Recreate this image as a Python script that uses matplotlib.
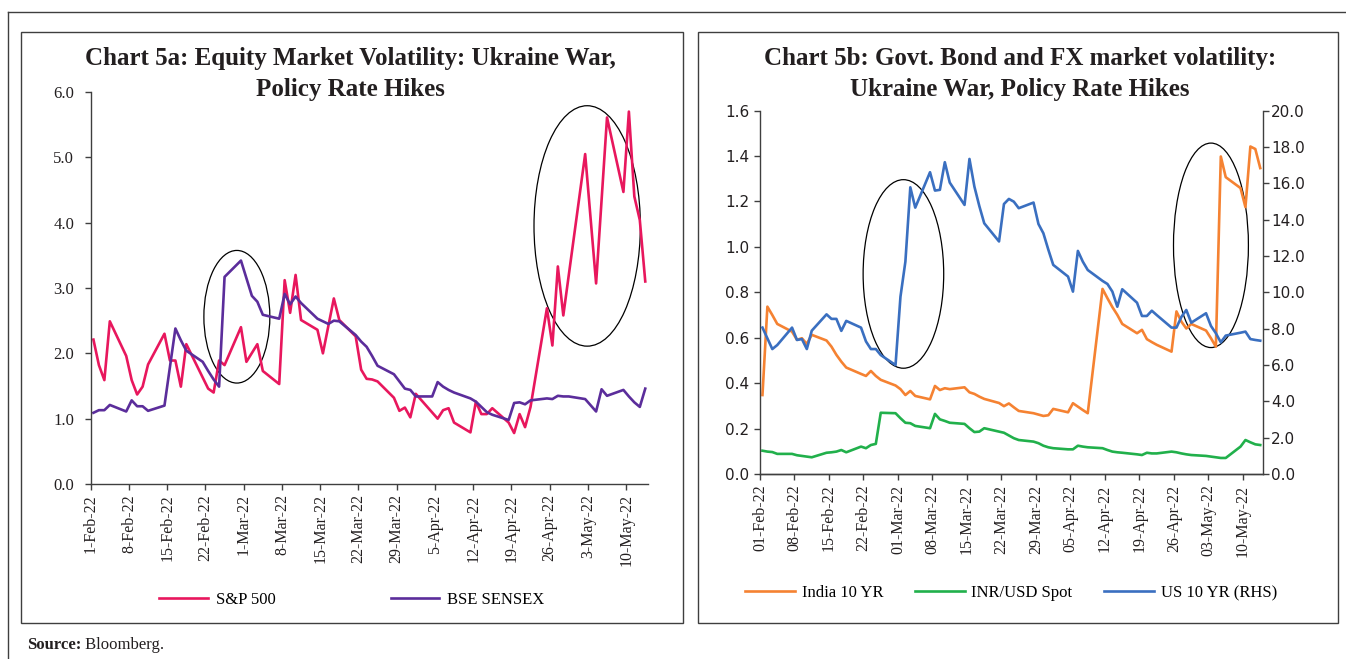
import numpy as np
import pandas as pd
import matplotlib
matplotlib.use("Agg")
import matplotlib.pyplot as plt
import matplotlib.dates as mdates
from matplotlib.patches import Ellipse, Rectangle
from matplotlib.lines import Line2D

nan = np.nan

# trading days shown on both charts
dates = pd.bdate_range("2022-02-01", "2022-05-13")
tick_dates = pd.date_range("2022-02-01", periods=15, freq="7D")

# Chart 5a: equity volatility
sp500 = [2.21, 1.82, 1.59, 2.49,
         1.96, 1.59, 1.37, 1.49, 1.83,
         2.30, 1.89, 1.89, 1.49, 2.14,
         nan, 1.46, 1.40, 1.89, 1.82,
         2.40, 1.87, nan, 2.14, 1.73,
         1.53, 3.12, 2.62, 3.20, 2.51,
         2.36, 2.00, nan, 2.84, 2.51,
         2.26, 1.75, 1.61, 1.60, 1.57,
         1.32, 1.12, 1.17, 1.02, 1.38,
         nan, 1.00, 1.13, 1.16, 0.94,
         0.79, 1.26, 1.07, 1.07, 1.16,
         0.94, 0.78, 1.07, 0.87, 1.18,
         2.69, 2.12, 3.33, 2.58, nan,
         5.05, nan, 3.07, nan, 5.61,
         4.47, 5.70, 4.40, 4.04, 3.10]
sensex = [1.09, 1.13, 1.13, 1.21,
          1.11, 1.28, 1.19, 1.19, 1.12,
          1.20, nan, 2.38, 2.20, 2.04,
          1.87, 1.73, 1.60, 1.49, 3.17,
          3.42, nan, 2.88, 2.79, 2.59,
          2.53, 2.91, 2.75, 2.87, 2.77,
          2.53, 2.49, 2.45, 2.50, 2.49,
          2.28, 2.18, 2.10, 1.96, 1.81,
          1.68, 1.57, 1.46, 1.44, 1.34,
          1.34, 1.56, 1.49, 1.44, 1.40,
          1.31, 1.26, 1.18, 1.10, 1.06,
          0.98, 1.24, 1.25, 1.22, 1.28,
          1.31, 1.30, 1.35, 1.34, 1.34,
          1.30, nan, 1.11, 1.45, 1.35,
          1.44, 1.34, 1.25, 1.18, 1.46]

# Chart 5b: bond and FX volatility
india10 = [0.348, 0.737, 0.700, 0.661,
           0.627, 0.591, 0.598, 0.573, 0.613,
           0.588, 0.561, 0.525, 0.495, 0.469,
           0.441, 0.432, 0.454, 0.432, 0.415,
           0.390, 0.374, 0.348, 0.366, 0.344,
           0.329, 0.388, 0.370, 0.378, 0.374,
           0.382, 0.360, 0.353, 0.341, 0.331,
           0.313, 0.299, 0.311, 0.294, 0.278,
           0.268, 0.262, 0.256, 0.259, 0.287,
           0.272, 0.312, 0.297, 0.282, 0.268,
           0.815, 0.774, 0.735, 0.701, 0.661,
           0.620, 0.635, 0.594, 0.581, 0.569,
           0.539, 0.716, 0.671, 0.641, 0.661,
           0.632, 0.598, 0.561, 1.398, 1.307,
           1.259, 1.175, 1.442, 1.431, 1.347]
inr_usd = [0.103, 0.099, 0.097, 0.089,
           0.089, 0.083, 0.080, 0.077, 0.074,
           0.094, 0.096, 0.099, 0.106, 0.096,
           0.121, 0.114, 0.128, 0.133, 0.270,
           0.268, 0.246, 0.226, 0.224, 0.212,
           0.202, 0.265, 0.241, 0.234, 0.226,
           0.221, 0.202, 0.185, 0.187, 0.202,
           0.187, 0.182, 0.170, 0.158, 0.150,
           0.143, 0.136, 0.125, 0.118, 0.114,
           0.109, 0.109, 0.125, 0.121, 0.118,
           0.114, 0.106, 0.099, 0.096, 0.094,
           0.087, 0.084, 0.094, 0.091, 0.091,
           0.099, 0.096, 0.091, 0.087, 0.084,
           0.080, 0.077, 0.074, 0.071, 0.071,
           0.121, 0.150, 0.140, 0.131, 0.128]
us10 = [8.06, 7.47, 6.88, 7.10,
        8.06, 7.38, 7.43, 6.88, 7.89,
        8.79, 8.54, 8.54, 7.88, 8.43,
        8.06, 7.30, 6.88, 6.88, 6.55,
        6.00, 9.76, 11.69, 15.78, 14.66,
        16.61, 15.60, 15.64, 17.16, 16.04,
        14.81, 17.34, 15.82, 14.75, 13.80,
        12.80, 14.86, 15.14, 14.99, 14.63,
        14.94, 13.76, 13.25, 12.35, 11.51,
        10.87, 10.04, 12.28, 11.69, 11.23,
        10.63, 10.46, 10.04, 9.21, 10.17,
        9.43, 8.70, 8.70, 8.99, 8.75,
        8.06, 8.06, 8.65, 9.03, 8.33,
        8.85, 8.15, 7.75, 7.25, 7.62,
        7.78, 7.84, 7.43, 7.38, 7.34]

SERIF = ["Liberation Serif", "DejaVu Serif"]
plt.rcParams["font.family"] = SERIF
AXC = "#3f3f3f"

W, H = 1346, 659
def fx(px):
    return px / W
def fy(py):
    return 1 - py / H

fig = plt.figure(figsize=(W / 100, H / 100), dpi=100)

# points sit in the middle of each day, like an Excel date axis
x = dates + pd.Timedelta(hours=12)
start, end = pd.Timestamp("2022-02-01"), pd.Timestamp("2022-05-14")
d0 = mdates.date2num(start)

def draw(ax, vals, color, label):
    s = pd.Series(vals, index=x).dropna()
    return ax.plot(s.index, s.values, color=color, lw=1.9, label=label)[0]

def style(ax, spines):
    for k, sp in ax.spines.items():
        sp.set_visible(k in spines)
        sp.set_color(AXC)
        sp.set_linewidth(1.0)
    ax.tick_params(direction="out", length=4, width=1, color=AXC,
                   labelcolor="#231f20")
    ax.set_xlim(start, end)
    ax.set_xticks(tick_dates)
    ax.patch.set_alpha(0)

# ---- left chart
ax1 = fig.add_axes([fx(90.7), fy(484), fx(648) - fx(90.7), fy(92) - fy(484)])
l_sp = draw(ax1, sp500, "#e8175d", "S&P 500")
l_bse = draw(ax1, sensex, "#5b2d9b", "BSE SENSEX")
style(ax1, ["left", "bottom"])
ax1.set_ylim(0, 6)
ax1.set_yticks(np.arange(0, 6.01, 1.0))
ax1.set_yticklabels([f"{v:.1f}" for v in np.arange(0, 6.01, 1.0)], fontsize=12)
ax1.tick_params(axis="y", pad=8)
ax1.set_xticklabels([f"{d.day}-{d:%b-%y}" for d in tick_dates], rotation=90, fontsize=11.5)
for cx, cy, w, h in [(26.75, 2.56, 12.07, 2.03), (90.87, 3.95, 19.47, 3.68)]:
    ax1.add_patch(Ellipse((d0 + cx, cy), w, h, fill=False, ec="black", lw=0.9, clip_on=False))

# ---- right chart
ax3 = fig.add_axes([fx(760), fy(474.1), fx(1262.7) - fx(760), fy(110.6) - fy(474.1)])
ax4 = ax3.twinx()
l_in = draw(ax3, india10, "#f58232", "India 10 YR")
l_fx = draw(ax3, inr_usd, "#21b04b", "INR/USD Spot")
l_us = draw(ax4, us10, "#3a6fc0", "US 10 YR (RHS)")
style(ax3, ["left", "bottom"])
style(ax4, ["right", "bottom"])
ax3.set_ylim(0, 1.6)
ax4.set_ylim(0, 20)
ax3.set_yticks(np.arange(0, 1.61, 0.2))
ax3.set_yticklabels([f"{v:.1f}" for v in np.arange(0, 1.61, 0.2)])
ax4.set_yticks(np.arange(0, 20.1, 2.0))
ax4.set_yticklabels([f"{v:.1f}" for v in np.arange(0, 20.1, 2.0)])
ax3.tick_params(axis="y", labelsize=11, labelfontfamily="DejaVu Sans")
ax4.tick_params(axis="y", labelsize=11, labelfontfamily="DejaVu Sans", pad=2)
ax3.set_xticklabels([f"{d:%d-%b-%y}" for d in tick_dates], rotation=90, fontsize=11.5)
ax4.tick_params(axis="x", labelbottom=False)
for cx, cy, w, h in [(29.1, 0.881, 16.35, 0.83), (91.5, 1.007, 15.2, 0.90)]:
    ax3.add_patch(Ellipse((d0 + cx, cy), w, h, fill=False, ec="black", lw=0.9, clip_on=False))

# ---- titles, legends, frames
fig.text(fx(350), fy(74), "Chart 5a: Equity Market Volatility: Ukraine War,\nPolicy Rate Hikes",
         ha="center", va="center", fontsize=18, fontweight="bold", linespacing=1.45, color="#231f20")
fig.text(fx(1020), fy(74), "Chart 5b: Govt. Bond and FX market volatility:\nUkraine War, Policy Rate Hikes",
         ha="center", va="center", fontsize=18, fontweight="bold", linespacing=1.45, color="#231f20")

fig.legend(handles=[l_sp, l_bse], loc="center", bbox_to_anchor=(fx(352), fy(600)), ncol=2,
           frameon=False, fontsize=12, handlelength=2.9, handletextpad=0.5, columnspacing=6.9)
fig.legend(handles=[l_in, l_fx, l_us], loc="center", bbox_to_anchor=(fx(1011), fy(593)), ncol=3,
           frameon=False, fontsize=12, handlelength=3.0, handletextpad=0.4, columnspacing=1.9)

for x0, x1 in [(21, 683), (698, 1338)]:
    fig.add_artist(Rectangle((fx(x0), fy(623)), fx(x1) - fx(x0), fy(32) - fy(623),
                             transform=fig.transFigure, fill=False, ec=AXC, lw=1.0))
fig.add_artist(Line2D([fx(8), 1], [fy(12), fy(12)], transform=fig.transFigure, color=AXC, lw=1.0))
fig.add_artist(Line2D([fx(8), fx(8)], [0, fy(12)], transform=fig.transFigure, color=AXC, lw=1.0))

src = fig.text(fx(27), fy(645), "Source:", fontweight="bold", fontsize=12, va="center", color="#231f20")
ax1.annotate(" Bloomberg.", xy=(1, 0), xycoords=src, va="bottom", fontsize=12,
             color="#231f20", annotation_clip=False)

fig.savefig("out.png", dpi=100)
